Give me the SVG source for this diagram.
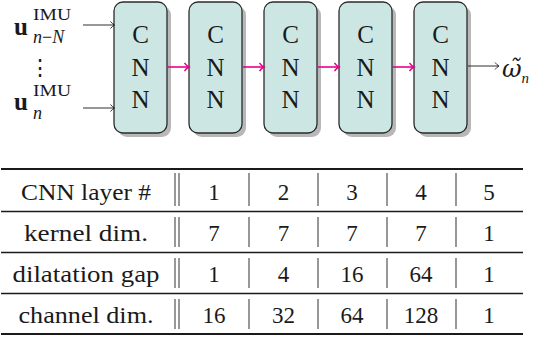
<svg xmlns="http://www.w3.org/2000/svg" width="533" height="340" viewBox="0 0 533 340">
<defs>
<style>
text{font-family:"Liberation Serif","Times New Roman",serif;fill:#1a1a1a}
.box{fill:#cce6e4;stroke:#2b2b2b;stroke-width:1.3}
.sh{fill:#b8b8b8}
.bl{font-size:25px;text-anchor:middle}
.pk{stroke:#ec008c;stroke-width:1.6;fill:none}
.ar{stroke:#1a1a1a;stroke-width:0.9;fill:none}
.tc{font-size:23px;text-anchor:middle}
.hl{stroke:#1a1a1a;stroke-width:1.3}
.hk{stroke:#1a1a1a;stroke-width:2.2}
.vl{stroke:#444;stroke-width:1.1}
.sup{font-size:17px}
.sub{font-size:18px;font-style:italic}
</style>
<marker id="mp" markerWidth="10" markerHeight="10" refX="5" refY="5" orient="auto" markerUnits="userSpaceOnUse">
<path d="M1,1 Q3,4 5.5,5 Q3,6 1,9" fill="none" stroke="#ec008c" stroke-width="1.4"/>
</marker>
<marker id="mb" markerWidth="10" markerHeight="10" refX="5" refY="5" orient="auto" markerUnits="userSpaceOnUse">
<path d="M1.5,1.5 Q3.5,4 5.5,5 Q3.5,6 1.5,8.5" fill="none" stroke="#1a1a1a" stroke-width="0.9"/>
</marker>
</defs>
<rect width="533" height="340" fill="#fff"/>

<g id="input-labels">
<text x="14" y="35" font-size="25" font-weight="bold">u</text>
<text class="sup" x="33" y="20" textLength="38" lengthAdjust="spacingAndGlyphs">IMU</text>
<text class="sub" x="33" y="43">n<tspan font-style="normal">−</tspan>N</text>
<text x="29" y="75" font-size="22" style="font-family:'DejaVu Serif',serif">⋮</text>
<text x="14" y="110" font-size="25" font-weight="bold">u</text>
<text class="sup" x="33" y="96" textLength="38" lengthAdjust="spacingAndGlyphs">IMU</text>
<text class="sub" x="33" y="119">n</text>
</g>

<g id="cnn1">
<rect class="sh" x="118" y="6" width="53" height="131" rx="9"/>
<rect class="box" x="114" y="2" width="53" height="131" rx="9"/>
<text class="bl" x="140.5" y="43">C</text><text class="bl" x="140.5" y="76">N</text><text class="bl" x="140.5" y="108">N</text>
</g>
<g id="cnn2">
<rect class="sh" x="193" y="6" width="53" height="131" rx="9"/>
<rect class="box" x="189" y="2" width="53" height="131" rx="9"/>
<text class="bl" x="215.5" y="43">C</text><text class="bl" x="215.5" y="76">N</text><text class="bl" x="215.5" y="108">N</text>
</g>
<g id="cnn3">
<rect class="sh" x="268" y="6" width="53" height="131" rx="9"/>
<rect class="box" x="264" y="2" width="53" height="131" rx="9"/>
<text class="bl" x="290.5" y="43">C</text><text class="bl" x="290.5" y="76">N</text><text class="bl" x="290.5" y="108">N</text>
</g>
<g id="cnn4">
<rect class="sh" x="343" y="6" width="53" height="131" rx="9"/>
<rect class="box" x="339" y="2" width="53" height="131" rx="9"/>
<text class="bl" x="365.5" y="43">C</text><text class="bl" x="365.5" y="76">N</text><text class="bl" x="365.5" y="108">N</text>
</g>
<g id="cnn5">
<rect class="sh" x="418" y="6" width="53" height="131" rx="9"/>
<rect class="box" x="414" y="2" width="53" height="131" rx="9"/>
<text class="bl" x="440.5" y="43">C</text><text class="bl" x="440.5" y="76">N</text><text class="bl" x="440.5" y="108">N</text>
</g>

<g id="output-label">
<text x="502" y="77" font-size="24" font-style="italic" style="font-family:'DejaVu Serif',serif">ω̃<tspan font-size="15" dy="6" style="font-family:'Liberation Serif',serif">n</tspan></text>
</g>

<g id="connectors">
<line class="ar" x1="83" y1="25" x2="114" y2="25" marker-end="url(#mb)"/>
<line class="ar" x1="83" y1="108" x2="114" y2="108" marker-end="url(#mb)"/>
<line class="pk" x1="168" y1="67" x2="188.5" y2="67" marker-end="url(#mp)"/>
<line class="pk" x1="243" y1="67" x2="263.5" y2="67" marker-end="url(#mp)"/>
<line class="pk" x1="318" y1="67" x2="338.5" y2="67" marker-end="url(#mp)"/>
<line class="pk" x1="393" y1="67" x2="413.5" y2="67" marker-end="url(#mp)"/>
<line class="ar" x1="468" y1="66" x2="498.5" y2="66" marker-end="url(#mb)"/>
</g>

<g id="table">
<line class="hk" x1="1" y1="169" x2="523" y2="169"/>
<line class="hl" x1="1" y1="211.5" x2="523" y2="211.5"/>
<line class="hl" x1="1" y1="252.5" x2="523" y2="252.5"/>
<line class="hl" x1="1" y1="293.5" x2="523" y2="293.5"/>
<line class="hk" x1="1" y1="334" x2="523" y2="334"/>
<g class="vl">
<path d="M175,173V206M179,173V206M249,173V206M318,173V206M387,173V206M456,173V206"/>
<path d="M175,217V247M179,217V247M249,217V247M318,217V247M387,217V247M456,217V247"/>
<path d="M175,258V288M179,258V288M249,258V288M318,258V288M387,258V288M456,258V288"/>
<path d="M175,299V329M179,299V329M249,299V329M318,299V329M387,299V329M456,299V329"/>
</g>
<text class="tc" x="86" y="200" textLength="130" lengthAdjust="spacingAndGlyphs">CNN layer #</text>
<text class="tc" x="86" y="241" textLength="124" lengthAdjust="spacingAndGlyphs">kernel dim.</text>
<text class="tc" x="86" y="282" textLength="147" lengthAdjust="spacingAndGlyphs">dilatation gap</text>
<text class="tc" x="86" y="323" textLength="135" lengthAdjust="spacingAndGlyphs">channel dim.</text>
<text class="tc" x="214" y="200">1</text><text class="tc" x="283.5" y="200">2</text><text class="tc" x="352" y="200">3</text><text class="tc" x="421" y="200">4</text><text class="tc" x="489" y="200">5</text>
<text class="tc" x="214" y="241">7</text><text class="tc" x="283.5" y="241">7</text><text class="tc" x="352" y="241">7</text><text class="tc" x="421" y="241">7</text><text class="tc" x="489" y="241">1</text>
<text class="tc" x="214" y="282">1</text><text class="tc" x="283.5" y="282">4</text><text class="tc" x="352" y="282">16</text><text class="tc" x="421" y="282">64</text><text class="tc" x="489" y="282">1</text>
<text class="tc" x="214" y="323">16</text><text class="tc" x="283.5" y="323">32</text><text class="tc" x="352" y="323">64</text><text class="tc" x="421" y="323">128</text><text class="tc" x="489" y="323">1</text>
</g>
</svg>
